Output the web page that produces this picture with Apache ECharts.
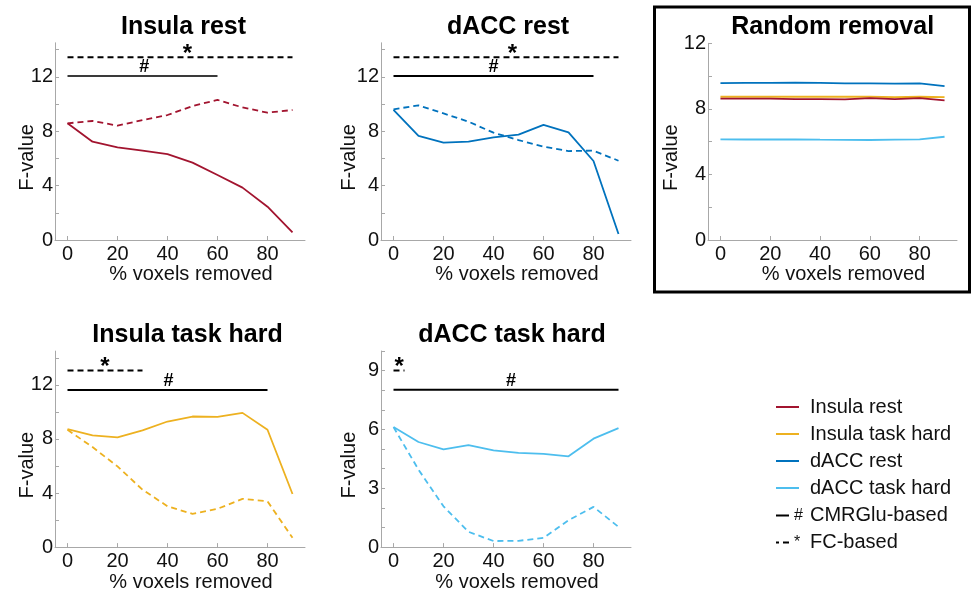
<!DOCTYPE html>
<html>
<head>
<meta charset="utf-8">
<script src="https://cdn.jsdelivr.net/npm/echarts@6/dist/echarts.min.js"></script>
<style>
html,body{margin:0;padding:0;background:#fff;}
#c{width:972px;height:593px;}
</style>
</head>
<body>
<div id="c"></div>
<script>
// ---- data ----
const pct = [0, 10, 20, 30, 40, 50, 60, 70, 80, 90];
const xTicks = [0, 20, 40, 60, 80];

const insulaRestCMR = [8.58, 7.23, 6.81, 6.57, 6.32, 5.69, 4.78, 3.85, 2.45, 0.56];
const insulaRestFC  = [8.58, 8.75, 8.41, 8.82, 9.19, 9.85, 10.3, 9.75, 9.36, 9.56];
const daccRestCMR   = [9.56, 7.65, 7.16, 7.23, 7.55, 7.75, 8.46, 7.92, 5.81, 0.44];
const daccRestFC    = [9.61, 9.90, 9.31, 8.70, 7.89, 7.35, 6.86, 6.54, 6.57, 5.83];
const insulaTaskCMR = [8.73, 8.26, 8.11, 8.63, 9.29, 9.66, 9.64, 9.93, 8.68, 3.93];
const insulaTaskFC  = [8.68, 7.40, 5.97, 4.25, 3.02, 2.46, 2.83, 3.57, 3.39, 0.69];
const daccTaskCMR   = [6.12, 5.36, 4.98, 5.20, 4.93, 4.80, 4.75, 4.63, 5.53, 6.07];
const daccTaskFC    = [6.12, 3.95, 2.08, 0.78, 0.31, 0.32, 0.47, 1.37, 2.05, 1.03];

const randInsulaRest = [8.62, 8.62, 8.62, 8.60, 8.60, 8.58, 8.66, 8.60, 8.65, 8.52];
const randInsulaTask = [8.74, 8.74, 8.74, 8.74, 8.74, 8.74, 8.74, 8.72, 8.74, 8.72];
const randDaccRest   = [9.57, 9.58, 9.58, 9.60, 9.59, 9.56, 9.55, 9.54, 9.56, 9.39];
const randDaccTask   = [6.14, 6.13, 6.13, 6.14, 6.12, 6.11, 6.10, 6.12, 6.14, 6.30];

// significance bars for panels: Insula rest, dACC rest, Insula task hard, dACC task hard
const fcSpan   = [[0, 90], [0, 90], [0, 30], [0, 4.4]];
const fcLevel  = [13.43, 13.43, 13.06, 9.0];
const starX    = [48, 47.6, 15, 2.3];
const cmrSpan  = [[0, 60], [0, 80], [0, 80], [0, 90]];
const cmrLevel = [12.06, 12.06, 11.63, 8.02];
const hashX    = [30.7, 40, 40.4, 47];

const titles = ['Insula rest', 'dACC rest', 'Random removal', 'Insula task hard', 'dACC task hard'];
const yMax = [14.5, 14.5, 12, 14.5, 10];
const yTickVals  = [[0,2,4,6,8,10,12,14],[0,2,4,6,8,10,12,14],[0,2,4,6,8,10,12],[0,2,4,6,8,10,12,14],[0,1,2,3,4,5,6,7,8,9,10]];
const yLabelVals = [[0,4,8,12],[0,4,8,12],[0,4,8,12],[0,4,8,12],[0,3,6,9]];

// ---- style / layout ----
const FONT = 'Liberation Sans, Arial, sans-serif';
const C_IR = '#A2142F', C_IT = '#EDB120', C_DR = '#0072BD', C_DT = '#4DBEEE';
const AX = '#a8a8a8';
const grids = [
  {left: 55,  top: 42.8,  width: 250, height: 197.2},
  {left: 381, top: 42.8,  width: 250, height: 197.2},
  {left: 708, top: 43.3,  width: 249, height: 196.7},
  {left: 55,  top: 351.1, width: 250, height: 196.6},
  {left: 381, top: 351.0, width: 250, height: 196.7}
];
const titlePos = [[183.5, 15], [508, 15], [832.7, 15], [187.5, 323], [512, 323]];
const yNameGap = [18, 22, 26.5, 18, 22];

const xy = arr => pct.map((p, i) => [p, arr[i]]);

const xAxes = grids.map((g, i) => ({
  gridIndex: i, type: 'value', min: -5, max: 95,
  axisLine: {show: true, onZero: false, lineStyle: {color: AX, width: 1}},
  axisTick: {show: true, inside: true, length: 4, customValues: xTicks, lineStyle: {color: AX}},
  axisLabel: {show: true, customValues: xTicks, fontSize: 20, fontFamily: FONT, color: '#111', margin: 4},
  splitLine: {show: false},
  name: '% voxels removed', nameLocation: 'middle', nameGap: 22,
  nameTextStyle: {fontSize: 20, fontFamily: FONT, color: '#111', padding: [0, 0, 0, 22]}
}));
const yAxes = grids.map((g, i) => ({
  gridIndex: i, type: 'value', min: 0, max: yMax[i],
  axisLine: {show: true, onZero: false, lineStyle: {color: AX, width: 1}},
  axisTick: {show: true, inside: true, length: 4, customValues: yTickVals[i], lineStyle: {color: AX}},
  axisLabel: {show: true, customValues: yLabelVals[i], fontSize: 20, fontFamily: FONT, color: '#111', margin: 2},
  splitLine: {show: false},
  name: 'F-value', nameLocation: 'middle', nameGap: yNameGap[i], nameMoveOverlap: false,
  nameTextStyle: {fontSize: 20, fontFamily: FONT, color: '#111', padding: [0, 32, 0, 0]}
}));

function line(name, grid, arr, color, dashed) {
  return {
    name: name, type: 'line', xAxisIndex: grid, yAxisIndex: grid,
    data: xy(arr), symbol: 'none', showSymbol: false, smooth: false,
    lineStyle: {color: color, width: 1.8, type: dashed ? [6, 4] : 'solid'},
    itemStyle: {color: color}, silent: true, z: 3
  };
}
function markLabel(x, y, txt, size, dy) {
  return {
    symbol: 'circle', symbolSize: 1, silent: true, animation: false,
    itemStyle: {color: 'rgba(0,0,0,0)'},
    label: {show: true, position: 'inside', formatter: txt, fontSize: size, fontWeight: 'bold',
            fontFamily: FONT, color: '#000', offset: [0, dy]},
    data: [{coord: [x, y]}]
  };
}
function sigLine(name, grid, span, level, dashed, color, mx, txt, size, dy) {
  return {
    name: name, type: 'line', xAxisIndex: grid, yAxisIndex: grid,
    data: [[span[0], level], [span[1], level]], symbol: 'none', showSymbol: false,
    lineStyle: {color: color, width: 2, type: dashed ? [6, 4] : 'solid'},
    itemStyle: {color: color}, silent: true, z: 4,
    markPoint: markLabel(mx, level, txt, size, dy)
  };
}

const series = [];
series.push(line('Insula rest', 0, insulaRestCMR, C_IR, false));
series.push(line('Insula task hard', 3, insulaTaskCMR, C_IT, false));
series.push(line('dACC rest', 1, daccRestCMR, C_DR, false));
series.push(line('dACC task hard', 4, daccTaskCMR, C_DT, false));
series.push(line('Insula rest', 0, insulaRestFC, C_IR, true));
series.push(line('dACC rest', 1, daccRestFC, C_DR, true));
series.push(line('Insula task hard', 3, insulaTaskFC, C_IT, true));
series.push(line('dACC task hard', 4, daccTaskFC, C_DT, true));
// random removal
series.push(line('dACC task hard', 2, randDaccTask, C_DT, false));
series.push(line('dACC rest', 2, randDaccRest, C_DR, false));
series.push(line('Insula task hard', 2, randInsulaTask, C_IT, false));
series.push(line('Insula rest', 2, randInsulaRest, C_IR, false));
// significance bars
const sigGrid = [0, 1, 3, 4];
sigGrid.forEach((g, k) => {
  series.push(sigLine('CMRGlu-based', g, cmrSpan[k], cmrLevel[k], false, k === 0 ? '#3a3a3a' : '#000', hashX[k], '#', 18, -9));
  series.push(sigLine('FC-based', g, fcSpan[k], fcLevel[k], true, '#000', starX[k], '*', 24, -3));
});

const DASH_ICON = 'path://M0,0h3v2h-3z M7,0h6v2h-6z';

const option = {
  backgroundColor: '#fff',
  animation: false,
  title: titles.map((t, i) => ({
    text: t, left: titlePos[i][0], top: titlePos[i][1], textAlign: 'center', padding: 0,
    textStyle: {fontSize: 25, fontWeight: 'bold', fontFamily: FONT, color: '#000'}
  })),
  grid: grids,
  xAxis: xAxes,
  yAxis: yAxes,
  legend: [
    {
      orient: 'vertical', left: 776, top: 397, padding: 0, itemWidth: 23, itemHeight: 2, itemGap: 7,
      selectedMode: false, icon: 'rect',
      data: ['Insula rest', 'Insula task hard', 'dACC rest', 'dACC task hard'],
      textStyle: {fontSize: 20, fontFamily: FONT, color: '#111', padding: [0, 0, 0, 6]}
    },
    {
      orient: 'vertical', left: 776, top: 505.5, padding: 0, itemWidth: 13, itemHeight: 2, itemGap: 7,
      selectedMode: false,
      data: [
        {name: 'CMRGlu-based', icon: 'rect', itemStyle: {color: '#000'}},
        {name: 'FC-based', icon: DASH_ICON, itemStyle: {color: '#000'}}
      ],
      formatter: n => (n === 'CMRGlu-based' ? '{m|#}' : '{m|*}') + n,
      textStyle: {fontSize: 20, fontFamily: FONT, color: '#111',
        rich: {m: {fontSize: 16, fontFamily: FONT, color: '#111', width: 16, align: 'left'}}}
    }
  ],
  graphic: [{
    type: 'rect', shape: {x: 654.5, y: 7, width: 315, height: 285},
    style: {fill: 'none', stroke: '#000', lineWidth: 3}, silent: true, z: 10
  }],
  series: series
};

const chart = echarts.init(document.getElementById('c'), null, {renderer: 'canvas'});
chart.setOption(option);
</script>
</body>
</html>
